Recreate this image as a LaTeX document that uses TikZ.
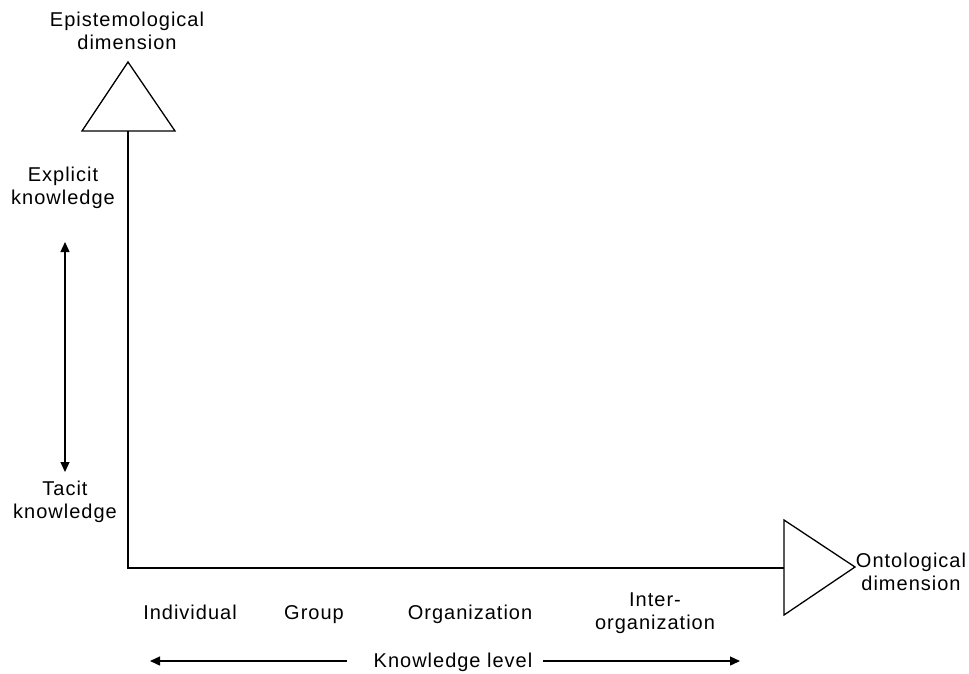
\documentclass[tikz,border=0pt]{standalone}
\usepackage{fontspec}
\setmainfont{Liberation Sans}[LetterSpace=5]
\usetikzlibrary{arrows.meta}
\begin{document}
\begin{tikzpicture}[x=1pt,y=-1pt,
  lbl/.style={font=\fontsize{20}{23}\selectfont, align=center, inner sep=0pt},
  word/.style={font=\fontsize{20}{23}\selectfont, inner sep=0pt, anchor=base},
  axis/.style={line width=1.4pt},
  tri/.style={line width=1.3pt, line join=miter},
  dbl/.style={line width=1.3pt, {Triangle[width=9pt,length=10pt]}-{Triangle[width=9pt,length=10pt]}},
  onearrow/.style={line width=1.3pt, -{Triangle[width=9pt,length=10pt]}}]
\useasboundingbox[fill=white] (0,0) rectangle (969,673);

% axes and their triangular heads
\coordinate (topbase) at (128,131);
\coordinate (corner) at (128,568);
\coordinate (rightbase) at (784,568);
\draw[tri] (82,131) -- (128,62) -- (175,131) -- cycle;
\draw[tri] (784,520) -- (855,567) -- (784,615) -- cycle;
\draw[axis] (topbase) -- (corner) -- (rightbase);

% axis titles
\node[lbl] (epi) at (127,31) {Epistemological\\dimension};
\node[lbl] (onto) at (911,572) {Ontological\\dimension};

% epistemological scale
\node[lbl] (explicit) at (63,188) {Explicit\\knowledge};
\node[lbl] (tacit) at (65,502) {Tacit\\knowledge};
\coordinate (epTop) at (65,242);
\coordinate (epBot) at (65,472);
\draw[dbl] (epTop) -- (epBot);

% ontological scale
\node[word] (individual) at (190,619) {Individual};
\node[word] (group) at (314,619) {Group};
\node[word] (organization) at (470,619) {Organization};
\node[lbl] (inter) at (655,613) {Inter-\\organization};
\node[word] (klevel) at (453,667) {Knowledge level};
\coordinate (klA) at (347,661);
\coordinate (klL) at (150,661);
\coordinate (klB) at (543,661);
\coordinate (klR) at (740,661);
\draw[onearrow] (klA) -- (klL);
\draw[onearrow] (klB) -- (klR);
\end{tikzpicture}
\end{document}
